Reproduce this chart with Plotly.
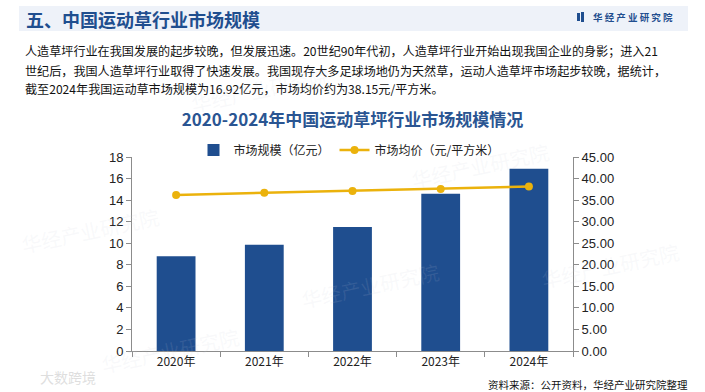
import plotly.graph_objects as go

# ---- data ----
years = ["2020年", "2021年", "2022年", "2023年", "2024年"]
market_size = [8.8, 9.85, 11.5, 14.6, 16.92]        # 亿元
avg_price = [36.2, 36.7, 37.1, 37.6, 38.15]         # 元/平方米
left_ticks = list(range(0, 19, 2))
right_ticks = list(range(0, 46, 5))

header_title = "五、中国运动草行业市场规模"
brand = "华 经 产 业 研 究 院"
para_lines = [
    "人造草坪行业在我国发展的起步较晚，但发展迅速。20世纪90年代初，人造草坪行业开始出现我国企业的身影；进入21",
    "世纪后，我国人造草坪行业取得了快速发展。我国现存大多足球场地仍为天然草，运动人造草坪市场起步较晚，据统计，",
    "截至2024年我国运动草市场规模为16.92亿元，市场均价约为38.15元/平方米。",
]
chart_title = "2020-2024年中国运动草坪行业市场规模情况"
source = "资料来源：公开资料，华经产业研究院整理"

W, H = 705, 392
L, R, T, B = 132, 573, 157, 351

def px(x):
    return (x - L) / (R - L)

def py(y):
    return (B - y) / (B - T)

CJK = "Noto Sans CJK SC, Noto Sans, sans-serif"
NUM = "Liberation Sans, Arial, sans-serif"
BLUE = "#1f4e8f"
GOLD = "#ebb20c"

fig = go.Figure()
fig.add_trace(go.Bar(
    x=years, y=market_size, name="市场规模（亿元）",
    marker=dict(color=BLUE, line=dict(width=0)), width=0.44,
))
fig.add_trace(go.Scatter(
    x=years, y=avg_price, name="市场均价（元/平方米）", yaxis="y2",
    mode="lines+markers", line=dict(color=GOLD, width=2.5),
    marker=dict(color=GOLD, size=8),
))

axis_common = dict(
    showline=True, linecolor="#8c8c8c", linewidth=1, ticks="outside",
    tickcolor="#8c8c8c", ticklen=5, showgrid=False, zeroline=False,
)

fig.update_layout(
    width=W, height=H, paper_bgcolor="white", plot_bgcolor="white",
    margin=dict(l=L, r=W - R, t=T, b=H - B),
    bargap=0.5,
    xaxis=dict(**axis_common, type="category", tickson="boundaries",
               tickfont=dict(family=CJK, size=12, color="#222")),
    yaxis=dict(**axis_common, range=[0, 18], tickvals=left_ticks,
               tickfont=dict(family=NUM, size=13, color="#222")),
    yaxis2=dict(**axis_common, overlaying="y", side="right", range=[0, 45],
                tickvals=right_ticks, tickformat=".2f",
                tickfont=dict(family=NUM, size=13, color="#222")),
    title=dict(text="<b>" + chart_title + "</b>", x=0.5, xanchor="center",
               y=1 - 120 / H, yanchor="middle",
               font=dict(family=CJK, size=17, color="#2a5592")),
    legend=dict(orientation="h", x=px(349), xanchor="center", y=py(150), yanchor="middle",
                font=dict(family=CJK, size=12, color="#222"),
                itemwidth=30, bgcolor="rgba(0,0,0,0)"),
    showlegend=True,
)

shapes = [
    dict(type="rect", xref="paper", yref="paper", x0=px(19), x1=px(688), y0=py(31), y1=py(6),
         fillcolor="#eef2f9", line=dict(width=0), layer="below"),
    dict(type="rect", xref="paper", yref="paper", x0=px(577), x1=px(580), y0=py(21), y1=py(13),
         fillcolor=BLUE, line=dict(width=0)),
    dict(type="rect", xref="paper", yref="paper", x0=px(581), x1=px(584), y0=py(22), y1=py(12),
         fillcolor=BLUE, line=dict(width=0)),
]
fig.update_layout(shapes=shapes)

ann = []
ann.append(dict(text="<b>" + header_title + "</b>", xref="paper", yref="paper",
                x=px(24), y=py(18.5), xanchor="left", yanchor="middle", showarrow=False,
                font=dict(family=CJK, size=18, color="#1f4e8f")))
ann.append(dict(text="<b>" + brand + "</b>", xref="paper", yref="paper",
                x=px(591), y=py(17), xanchor="left", yanchor="middle", showarrow=False,
                font=dict(family=CJK, size=9.5, color="#1f4e8f")))
for i, line in enumerate(para_lines):
    ann.append(dict(text=line, xref="paper", yref="paper",
                    x=px(23), y=py(51 + 19 * i), xanchor="left", yanchor="middle",
                    showarrow=False, font=dict(family=CJK, size=12.1, color="#111")))
ann.append(dict(text=source, xref="paper", yref="paper",
                x=px(690), y=py(384), xanchor="right", yanchor="middle", showarrow=False,
                font=dict(family=CJK, size=10.5, color="#111")))
# faint watermarks
for (wx, wy) in [(90, 230), (260, 90), (480, 165), (170, 350), (610, 265), (370, 285)]:
    ann.append(dict(text="华经产业研究院", xref="paper", yref="paper",
                    x=px(wx), y=py(wy), xanchor="center", yanchor="middle", showarrow=False,
                    textangle=-12, font=dict(family=CJK, size=20, color="rgba(200,205,215,0.12)")))
ann.append(dict(text="大数跨境", xref="paper", yref="paper",
                x=px(38), y=py(377), xanchor="left", yanchor="middle", showarrow=False,
                font=dict(family=CJK, size=14, color="rgba(190,190,190,0.5)")))
fig.update_layout(annotations=ann)

fig.write_html("out.html", config={"displayModeBar": False},
               post_script="document.body.style.margin='0';")
